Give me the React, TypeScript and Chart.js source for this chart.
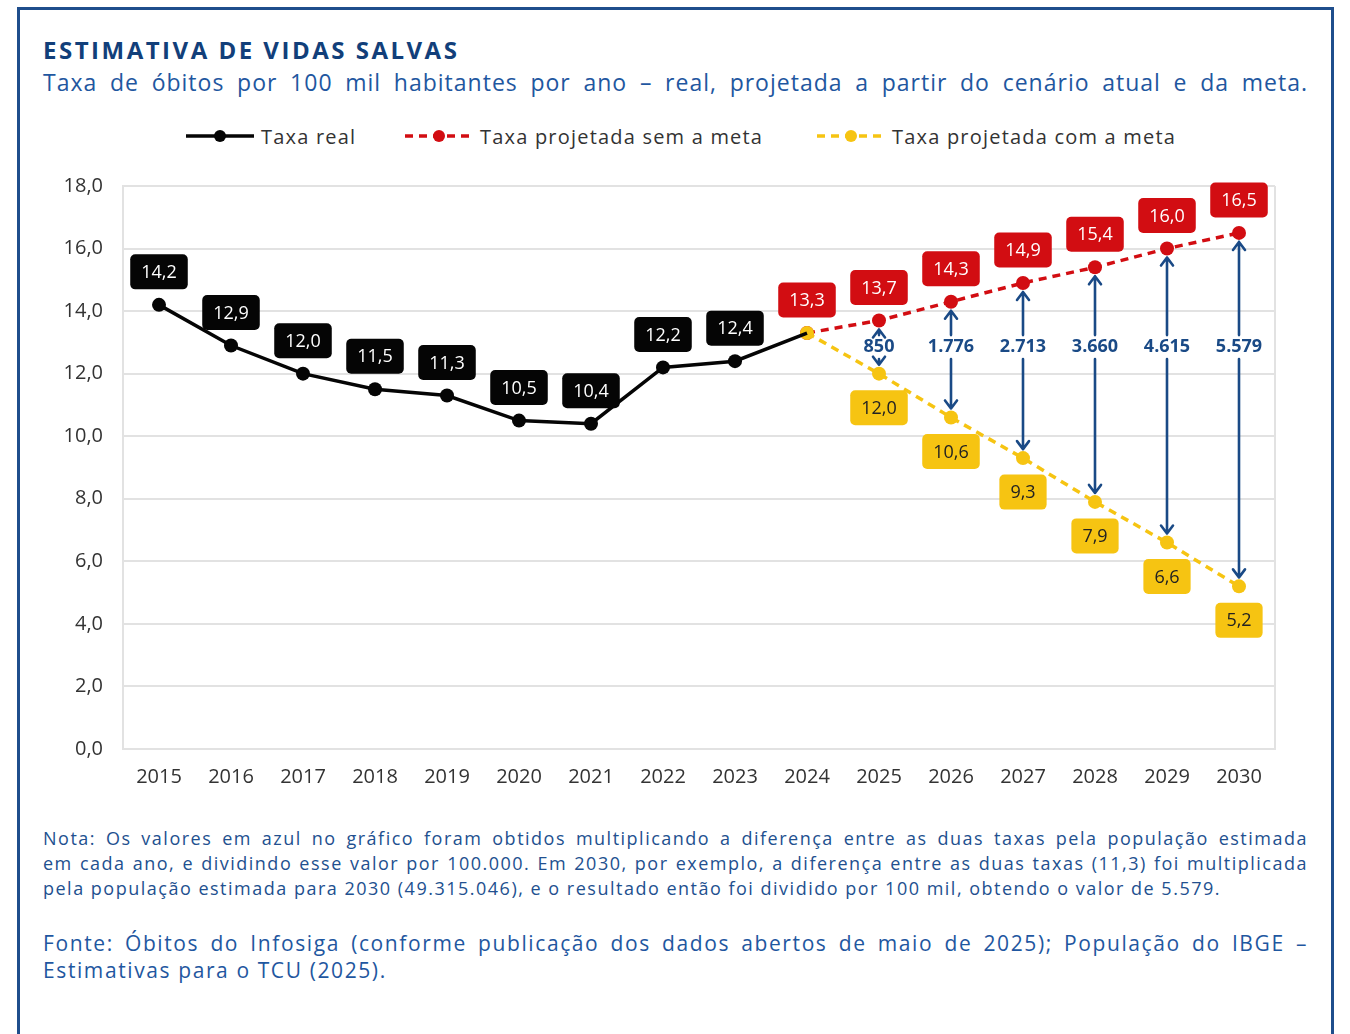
import React, { useEffect, useRef } from "react";
import { Chart, registerables } from "chart.js";

Chart.register(...registerables);

const years = ["2015", "2016", "2017", "2018", "2019", "2020", "2021", "2022", "2023", "2024", "2025", "2026", "2027", "2028", "2029", "2030"];
const taxaReal = [14.2, 12.9, 12.0, 11.5, 11.3, 10.5, 10.4, 12.2, 12.4, 13.3, null, null, null, null, null, null];
const taxaSemMeta = [null, null, null, null, null, null, null, null, null, 13.3, 13.7, 14.3, 14.9, 15.4, 16.0, 16.5];
const taxaComMeta = [null, null, null, null, null, null, null, null, null, 13.3, 12.0, 10.6, 9.3, 7.9, 6.6, 5.2];
const vidasSalvas = [null, null, null, null, null, null, null, null, null, null, 850, 1776, 2713, 3660, 4615, 5579];
const yTicks = { min: 0, max: 18, step: 2 };

const FONT = "'Open Sans', 'DejaVu Sans', sans-serif";
const NAVY = "#123f7a";
const BLUE = "#1f57a0";
const ARROW = "#1a4a86";
const RED = "#d20d12";
const YELLOW = "#f6c412";
const BLACK = "#050505";

const fmt1 = (v: number) => v.toFixed(1).replace(".", ",");
const fmtInt = (v: number) => String(v).replace(/\B(?=(\d{3})+(?!\d))/g, ".");

const boxesPlugin = {
  id: "boxes",
  beforeDatasetsDraw(chart: any) {
    const { ctx, chartArea } = chart;
    ctx.save();
    ctx.strokeStyle = "#e2e2e2";
    ctx.lineWidth = 2;
    ctx.beginPath();
    ctx.moveTo(chartArea.right, chartArea.top);
    ctx.lineTo(chartArea.right, chartArea.bottom);
    ctx.stroke();
    ctx.restore();
  },
  afterDatasetsDraw(chart: any) {
    const { ctx } = chart;
    const yScale = chart.scales.y;
    const sem = chart.getDatasetMeta(1);
    const com = chart.getDatasetMeta(2);
    ctx.save();
    const yText = yScale.getPixelForValue(12.85);
    vidasSalvas.forEach((v, i) => {
      if (v == null) return;
      const x = sem.data[i].x;
      const top = sem.data[i].y + 9;
      const bot = com.data[i].y - 9;
      ctx.strokeStyle = ARROW;
      ctx.lineWidth = 2.6;
      ctx.lineCap = "round";
      ctx.lineJoin = "round";
      ctx.beginPath();
      ctx.moveTo(x, top);
      ctx.lineTo(x, Math.max(top, yText - 12));
      ctx.moveTo(x, Math.min(bot, yText + 12));
      ctx.lineTo(x, bot);
      ctx.moveTo(x - 6, top + 8);
      ctx.lineTo(x, top);
      ctx.lineTo(x + 6, top + 8);
      ctx.moveTo(x - 6, bot - 8);
      ctx.lineTo(x, bot);
      ctx.lineTo(x + 6, bot - 8);
      ctx.stroke();
      ctx.fillStyle = ARROW;
      ctx.font = `bold 18px ${FONT}`;
      ctx.textAlign = "center";
      ctx.textBaseline = "middle";
      ctx.fillText(fmtInt(v), x, yText);
    });
    chart.data.datasets.forEach((ds: any, di: number) => {
      const meta = chart.getDatasetMeta(di);
      ds.data.forEach((v: number | null, i: number) => {
        if (v == null || (ds.skipLabels || []).includes(i)) return;
        const p = meta.data[i];
        const text = fmt1(v);
        ctx.font = `18px ${FONT}`;
        const w = ctx.measureText(text).width + 22;
        const h = 35;
        const cy = ds.labelPos === "below" ? p.y + 34 : p.y - 33;
        ctx.fillStyle = ds.boxColor;
        ctx.beginPath();
        ctx.roundRect(p.x - w / 2, cy - h / 2, w, h, 5);
        ctx.fill();
        ctx.fillStyle = ds.boxText;
        ctx.textAlign = "center";
        ctx.textBaseline = "middle";
        ctx.fillText(text, p.x, cy + 1);
      });
    });
    ctx.restore();
  },
};

function LegendItem({ left, color, dashed, text }: { left: number; color: string; dashed: boolean; text: string }) {
  return (
    <div style={{ position: "absolute", left, top: 124, height: 24, display: "flex", alignItems: "center" }}>
      <svg width={68} height={24} style={{ display: "block" }}>
        <line x1={0} y1={12} x2={68} y2={12} stroke={color} strokeWidth={3.5} strokeDasharray={dashed ? "8 6" : undefined} />
        <circle cx={34} cy={12} r={6} fill={color} />
      </svg>
      <span style={{ marginLeft: 7, fontSize: 20, letterSpacing: "1.2px", color: "#333", fontFamily: FONT, whiteSpace: "nowrap" }}>{text}</span>
    </div>
  );
}

export default function App() {
  const ref = useRef<HTMLCanvasElement | null>(null);
  useEffect(() => {
    if (!ref.current) return;
    Chart.defaults.font.family = FONT;
    const chart = new Chart(ref.current, {
      type: "line",
      data: {
        labels: years,
        datasets: [
          {
            label: "Taxa real",
            data: taxaReal,
            borderColor: BLACK,
            backgroundColor: BLACK,
            borderWidth: 3.5,
            pointRadius: taxaReal.map((_, i) => (i === 9 ? 0 : 7)),
            pointBackgroundColor: BLACK,
            pointBorderWidth: 0,
            tension: 0,
            order: 0,
            boxColor: BLACK,
            boxText: "#ffffff",
            labelPos: "above",
            skipLabels: [9],
          } as any,
          {
            label: "Taxa projetada sem a meta",
            data: taxaSemMeta,
            borderColor: RED,
            backgroundColor: RED,
            borderWidth: 3.5,
            borderDash: [8, 6],
            pointRadius: 7,
            pointBackgroundColor: RED,
            pointBorderWidth: 0,
            order: 2,
            boxColor: RED,
            boxText: "#ffffff",
            labelPos: "above",
          } as any,
          {
            label: "Taxa projetada com a meta",
            data: taxaComMeta,
            borderColor: YELLOW,
            backgroundColor: YELLOW,
            borderWidth: 3.5,
            borderDash: [8, 6],
            pointRadius: 7,
            pointBackgroundColor: YELLOW,
            pointBorderWidth: 0,
            order: 1,
            boxColor: YELLOW,
            boxText: "#222222",
            labelPos: "below",
            skipLabels: [9],
          } as any,
        ],
      },
      options: {
        animation: false,
        responsive: true,
        maintainAspectRatio: false,
        events: [],
        layout: { padding: { left: 40, right: 75, top: 0, bottom: 20 } },
        plugins: { legend: { display: false }, tooltip: { enabled: false } },
        scales: {
          x: {
            offset: true,
            grid: { display: false, drawTicks: false },
            border: { display: true, color: "#e2e2e2", width: 2 },
            ticks: { color: "#333", font: { size: 20, family: FONT }, padding: 16, maxRotation: 0, autoSkip: false },
            afterFit: (s: any) => {
              s.height = 50;
            },
          },
          y: {
            min: yTicks.min,
            max: yTicks.max,
            grid: { color: "#e2e2e2", lineWidth: 2, drawTicks: false },
            border: { display: true, color: "#e2e2e2", width: 2 },
            ticks: {
              stepSize: yTicks.step,
              color: "#333",
              font: { size: 20, family: FONT },
              padding: 20,
              callback: (v: any) => fmt1(Number(v)),
            },
            afterFit: (s: any) => {
              s.width = 83;
            },
          },
        },
      },
      plugins: [boxesPlugin],
    });
    return () => chart.destroy();
  }, []);

  const justified: React.CSSProperties = { textAlign: "justify", textAlignLast: "justify" };

  return (
    <div style={{ position: "absolute", left: 0, top: 0, width: 1350, height: 1034, overflow: "hidden", background: "#fff", fontFamily: FONT }}>
      <div style={{ position: "absolute", left: 17, top: 7, width: 1317, height: 1100, border: "3px solid #1f4e8c", boxSizing: "border-box" }} />
      <div style={{ position: "absolute", left: 43, top: 36, fontSize: 24, lineHeight: "28px", fontWeight: 700, letterSpacing: "2.5px", color: NAVY, whiteSpace: "nowrap" }}>
        ESTIMATIVA DE VIDAS SALVAS
      </div>
      <div style={{ position: "absolute", left: 43, top: 67, width: 1265, fontSize: 23, lineHeight: "30px", letterSpacing: "1px", color: BLUE, ...justified }}>
        Taxa de óbitos por 100 mil habitantes por ano – real, projetada a partir do cenário atual e da meta.
      </div>
      <LegendItem left={186} color={BLACK} dashed={false} text="Taxa real" />
      <LegendItem left={405} color={RED} dashed={true} text="Taxa projetada sem a meta" />
      <LegendItem left={817} color={YELLOW} dashed={true} text="Taxa projetada com a meta" />
      <div style={{ position: "absolute", left: 0, top: 154, width: 1350, height: 665 }}>
        <canvas ref={ref} />
      </div>
      <div style={{ position: "absolute", left: 43, top: 826, width: 1265, fontSize: 18, lineHeight: "25px", letterSpacing: "1.5px", color: "#22508f" }}>
        <div style={justified}>Nota: Os valores em azul no gráfico foram obtidos multiplicando a diferença entre as duas taxas pela população estimada</div>
        <div style={justified}>em cada ano, e dividindo esse valor por 100.000. Em 2030, por exemplo, a diferença entre as duas taxas (11,3) foi multiplicada</div>
        <div>pela população estimada para 2030 (49.315.046), e o resultado então foi dividido por 100 mil, obtendo o valor de 5.579.</div>
      </div>
      <div style={{ position: "absolute", left: 43, top: 930, width: 1265, fontSize: 21, lineHeight: "27px", letterSpacing: "1.6px", color: BLUE }}>
        <div style={justified}>Fonte: Óbitos do Infosiga (conforme publicação dos dados abertos de maio de 2025); População do IBGE –</div>
        <div>Estimativas para o TCU (2025).</div>
      </div>
    </div>
  );
}
